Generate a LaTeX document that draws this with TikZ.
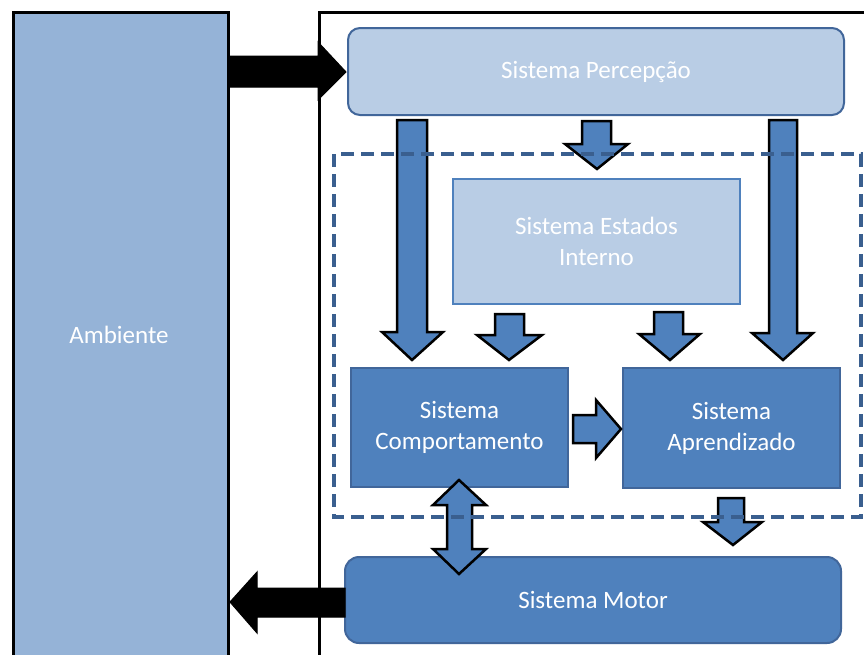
\documentclass[tikz,border=0pt]{standalone}
\usepackage{fontspec}
\setmainfont{Carlito}
\definecolor{ambfill}{HTML}{95B3D7}
\definecolor{lightfill}{HTML}{B9CDE5}
\definecolor{midfill}{HTML}{4F81BD}
\definecolor{edgeblue}{HTML}{41669A}
\definecolor{dashblue}{HTML}{3A5F8F}
\tikzset{
  boxfont/.style={font=\fontsize{25}{31}\selectfont},
  box/.style={draw=edgeblue, line width=2pt, text=white, boxfont, align=center, inner sep=0pt},
  lightbox/.style={box, fill=lightfill},
  darkbox/.style={box, fill=midfill},
  blockarrow/.style={fill=midfill, draw=black, line width=2.5pt, line join=miter},
  blackarrow/.style={fill=black, draw=black, line width=1pt, line join=miter},
  frame/.style={draw=black, line width=3pt},
  group/.style={draw=dashblue, line width=4pt, dash pattern=on 13pt off 7pt}
}
\begin{document}
\begin{tikzpicture}[x=1pt,y=-1pt]
\useasboundingbox (0,0) rectangle (864,654);
\clip (0,0) rectangle (864,654);
\fill[white] (0,0) rectangle (864,654);
% environment
\draw[frame, fill=ambfill] (13,12) rectangle (228,700);
\node[text=white, boxfont] (amb) at (119,335) {Ambiente};
% agent frame
\draw[frame] (319,12) rectangle (900,700);
% boxes
\node[lightbox, rounded corners=12pt, minimum width=496pt, minimum height=87pt] (perc) at (596,71.5) {Sistema Percepção};
\node[lightbox, draw=midfill, minimum width=287pt, minimum height=125pt] (est) at (596.5,241) {Sistema Estados\\Interno};
\node[darkbox, minimum width=217pt, minimum height=119pt] (comp) at (459.5,427.5) {Sistema\\Comportamento};
\node[darkbox, minimum width=217pt, minimum height=120pt] (apr) at (731.5,428) {Sistema\\Aprendizado};
\node[darkbox, rounded corners=14pt, minimum width=496pt, minimum height=86pt] (motor) at (593,600) {Sistema Motor};
% black arrows
\draw[blackarrow] (229,56) -- (318,56) -- (318,42) -- (346,72) -- (318,100) -- (318,87) -- (229,87) -- cycle;
\draw[blackarrow] (345,588) -- (257,588) -- (257,572) -- (230,602) -- (257,633) -- (257,617) -- (345,617) -- cycle;
% block arrows
\draw[blockarrow] (397,120) -- (427,120) -- (427,332) -- (443,332) -- (412,360) -- (382,332) -- (397,332) -- cycle;
\draw[blockarrow] (769,120) -- (797,120) -- (797,333) -- (813,333) -- (783,360) -- (752,333) -- (769,333) -- cycle;
\draw[blockarrow] (582,121) -- (611,121) -- (611,144) -- (628,144) -- (597,169) -- (565,144) -- (582,144) -- cycle;
\draw[blockarrow] (495,314) -- (524,314) -- (524,335) -- (542,335) -- (509,360) -- (477,335) -- (495,335) -- cycle;
\draw[blockarrow] (654,312) -- (683,312) -- (683,334) -- (700,334) -- (670,360) -- (639,334) -- (654,334) -- cycle;
\draw[blockarrow] (573,415) -- (596,415) -- (596,400) -- (621,429) -- (596,458) -- (596,443) -- (573,443) -- cycle;
\draw[blockarrow] (459,480) -- (486,505) -- (472,505) -- (472,549) -- (486,549) -- (459,574) -- (433,549) -- (447,549) -- (447,505) -- (433,505) -- cycle;
\draw[blockarrow] (718,498) -- (744,498) -- (744,522) -- (762,522) -- (733,545) -- (703,522) -- (718,522) -- cycle;
% dashed group
\draw[group] (334,154) rectangle (861,517);
\end{tikzpicture}
\end{document}
